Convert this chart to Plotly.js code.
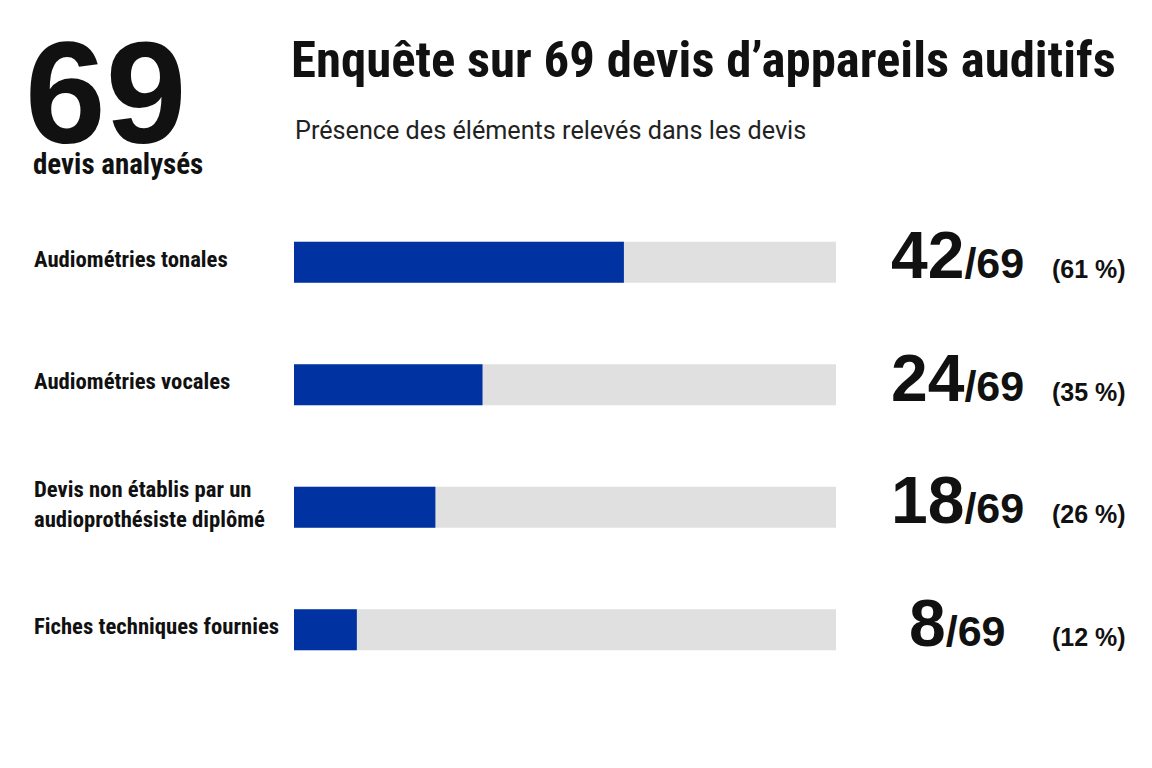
<!DOCTYPE html>
<html>
<head>
<meta charset="utf-8">
<script src="https://cdn.plot.ly/plotly-3.0.1.min.js"></script>
<style>
  html, body { margin: 0; padding: 0; background: #ffffff; }
  #chart { width: 1152px; height: 768px; }
</style>
</head>
<body>
<div id="chart"></div>
<script>
// Survey of 69 hearing-aid quotes: how often each item appears
const categories = [
  "Audiométries tonales",
  "Audiométries vocales",
  "Devis non établis par un<br>audioprothésiste diplômé",
  "Fiches techniques fournies"
];
const counts = [42, 24, 18, 8];
const total = 69;

const CONDENSED = "'Roboto Condensed', 'DejaVu Sans Condensed', sans-serif";
const FIGURES = "'Liberation Sans', Arial, Helvetica, sans-serif";
const REGULAR = "Roboto, 'Liberation Sans', sans-serif";
const INK = "#111111";
const BLUE = "#0033a1";
const TRACK = "#e0e0e0";

const W = 1152, H = 768;
const M = { l: 294, r: 316, t: 201, b: 77 };
const plotW = W - M.l - M.r;
const plotH = H - M.t - M.b;
const px2x = px => (px - M.l) / plotW;
const py2y = py => (H - M.b - py) / plotH;

const idx = categories.map((_, i) => i);

const trackTrace = {
  type: "bar",
  orientation: "h",
  x: categories.map(() => total),
  y: idx,
  width: 0.335,
  marker: { color: TRACK },
  hoverinfo: "skip",
  showlegend: false
};

const valueTrace = {
  type: "bar",
  orientation: "h",
  x: counts,
  y: idx,
  width: 0.335,
  marker: { color: BLUE },
  hovertemplate: "%{x}/" + total + "<extra></extra>",
  showlegend: false
};

const annotations = [];

// headline figure on the left
annotations.push({
  xref: "paper", yref: "paper", x: px2x(23), y: py2y(93),
  xanchor: "left", yanchor: "middle", showarrow: false,
  text: "<b>" + total + "</b>",
  font: { family: FIGURES, size: 145, color: INK }
});
annotations.push({
  xref: "paper", yref: "paper", x: px2x(31), y: py2y(164),
  xanchor: "left", yanchor: "middle", showarrow: false,
  text: "<b>devis analysés</b>",
  font: { family: CONDENSED, size: 29, color: INK }
});

// title and subtitle
annotations.push({
  xref: "paper", yref: "paper", x: px2x(289), y: py2y(59),
  xanchor: "left", yanchor: "middle", showarrow: false,
  text: "<b>Enquête sur " + total + " devis d’appareils auditifs</b>",
  font: { family: CONDENSED, size: 50.8, color: INK }
});
annotations.push({
  xref: "paper", yref: "paper", x: px2x(293), y: py2y(130),
  xanchor: "left", yanchor: "middle", showarrow: false,
  text: "Présence des éléments relevés dans les devis",
  font: { family: REGULAR, size: 25.2, color: "#222222" }
});

categories.forEach((cat, i) => {
  // row label, left aligned
  annotations.push({
    xref: "paper", yref: "y", x: px2x(32), y: i,
    xanchor: "left", yanchor: "middle", align: "left", showarrow: false,
    yshift: 3,
    text: "<b>" + cat + "</b>",
    font: { family: CONDENSED, size: 22.7, color: INK }
  });
  // count out of total
  annotations.push({
    xref: "paper", yref: "y", x: px2x(957), y: i,
    xanchor: "center", yanchor: "middle", showarrow: false,
    yshift: 7,
    text: "<b><span style='font-size:66px'>" + counts[i] + "</span>/" + total + "</b>",
    font: { family: FIGURES, size: 43, color: INK }
  });
  // percentage
  const pct = Math.round(counts[i] / total * 100);
  annotations.push({
    xref: "paper", yref: "y", x: px2x(1050), y: i,
    xanchor: "left", yanchor: "middle", showarrow: false,
    yshift: -7,
    text: "<b>(" + pct + " %)</b>",
    font: { family: FIGURES, size: 25, color: INK }
  });
});

const layout = {
  width: W, height: H,
  margin: M,
  paper_bgcolor: "#ffffff",
  plot_bgcolor: "#ffffff",
  barmode: "overlay",
  xaxis: {
    range: [0, total], visible: false, fixedrange: true
  },
  yaxis: {
    range: [3.5, -0.5], visible: false, fixedrange: true
  },
  annotations: annotations
};

Plotly.newPlot("chart", [trackTrace, valueTrace], layout, { displayModeBar: false, staticPlot: true });
</script>
</body>
</html>
